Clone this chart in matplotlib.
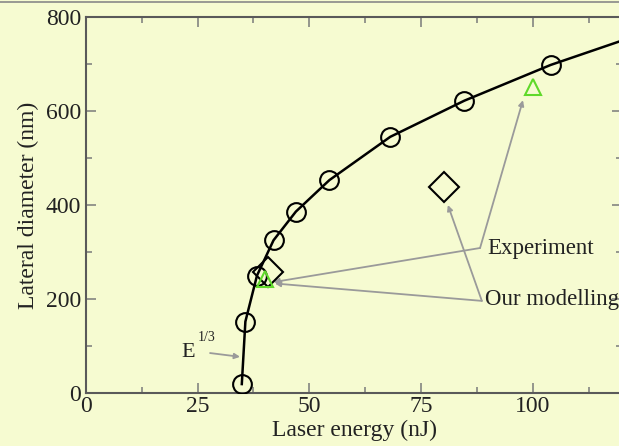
import numpy as np
import matplotlib
matplotlib.use("Agg")
import matplotlib.pyplot as plt
from matplotlib.ticker import MultipleLocator

# données
energie_cercles = [34.9, 35.7, 38.3, 42.0, 47.0, 54.5, 68.1, 84.7, 104.0]
diam_cercles = [19, 152, 250, 325, 386, 453, 545, 622, 698]

# courbe (passe par les cercles, sort du cadre à droite)
energie_courbe = energie_cercles + [120.0]
diam_courbe = diam_cercles + [750]

# modélisation (losanges) et expérience (triangles)
energie_model = [40.8, 80.1]
diam_model = [258, 439]
energie_exp = [40.1, 100.0]
diam_exp = [243, 651]

fond = '#f6fbd1'
gris_fleche = '#9a9a9a'
texte = '#222222'

plt.rcParams['font.family'] = ['Liberation Serif', 'DejaVu Serif']

fig = plt.figure(figsize=(6.19, 4.46), dpi=100, facecolor=fond)
ax = fig.add_axes([85.8/619, 53/446, 536.4/619, 376/446])
ax.set_facecolor(fond)

ax.plot(energie_courbe, diam_courbe, color='black', lw=1.8, zorder=3)
ax.plot(energie_cercles, diam_cercles, 'o', ms=13.5, mfc='none', mec='black', mew=1.5, zorder=4)
ax.plot(energie_model, diam_model, 'D', ms=15, mfc='none', mec='black', mew=1.5, zorder=4)
ax.plot(energie_exp, diam_exp, '^', ms=12, mfc='none', mec='#5fd92a', mew=1.5, zorder=5)

ax.set_xlim(0, 120)
ax.set_ylim(0, 800)
ax.xaxis.set_major_locator(MultipleLocator(25))
ax.xaxis.set_minor_locator(MultipleLocator(12.5))
ax.yaxis.set_major_locator(MultipleLocator(200))
ax.yaxis.set_minor_locator(MultipleLocator(100))

for s in ax.spines.values():
    s.set_color('#5a5a5a')
    s.set_linewidth(1.5)
ax.tick_params(which='both', direction='in', top=True, right=True, color='#7a7a7a', width=1.1, labelsize=17, labelcolor=texte)
ax.tick_params(which='major', length=7.2)
ax.tick_params(which='minor', length=4)
ax.tick_params(axis='x', pad=2)
ax.tick_params(axis='y', pad=3.5)

fig.text(354/619, 1 - 430/446, 'Laser energy (nJ)', ha='center', va='center', fontsize=17, color=texte)
fig.text(28/619, 1 - 205/446, 'Lateral diameter (nm)', ha='center', va='center', rotation=90, fontsize=17, color=texte)

# flèches grises
fl = dict(arrowstyle='-|>', color=gris_fleche, lw=1.3, mutation_scale=8, shrinkA=0, shrinkB=0)
ax.annotate('', xy=(97.8, 623), xytext=(88.2, 308.5), arrowprops=fl)
ax.annotate('', xy=(42.0, 236), xytext=(88.2, 308.5), arrowprops=fl)
ax.annotate('', xy=(81.0, 400), xytext=(88.6, 196), arrowprops=fl)
ax.annotate('', xy=(42.3, 233), xytext=(88.6, 196), arrowprops=fl)
ax.text(89.8, 308, 'Experiment', ha='left', va='center', fontsize=16.5, color=texte)
ax.text(89.3, 200, 'Our modelling', ha='left', va='center', fontsize=16.5, color=texte)

ax.annotate('', xy=(34.5, 77), xytext=(27.8, 85), arrowprops=fl)
ax.text(22.9, 87, 'E', ha='center', va='center', fontsize=16, color=texte)
ax.text(25.1, 118, '1/3', ha='left', va='center', fontsize=10, color=texte)

# trait gris en haut de l'image
fig.add_artist(plt.Line2D([0, 1], [1 - 1.5/446, 1 - 1.5/446], color='#888888', lw=1.2))

fig.savefig('out.png', dpi=100, facecolor=fond)
